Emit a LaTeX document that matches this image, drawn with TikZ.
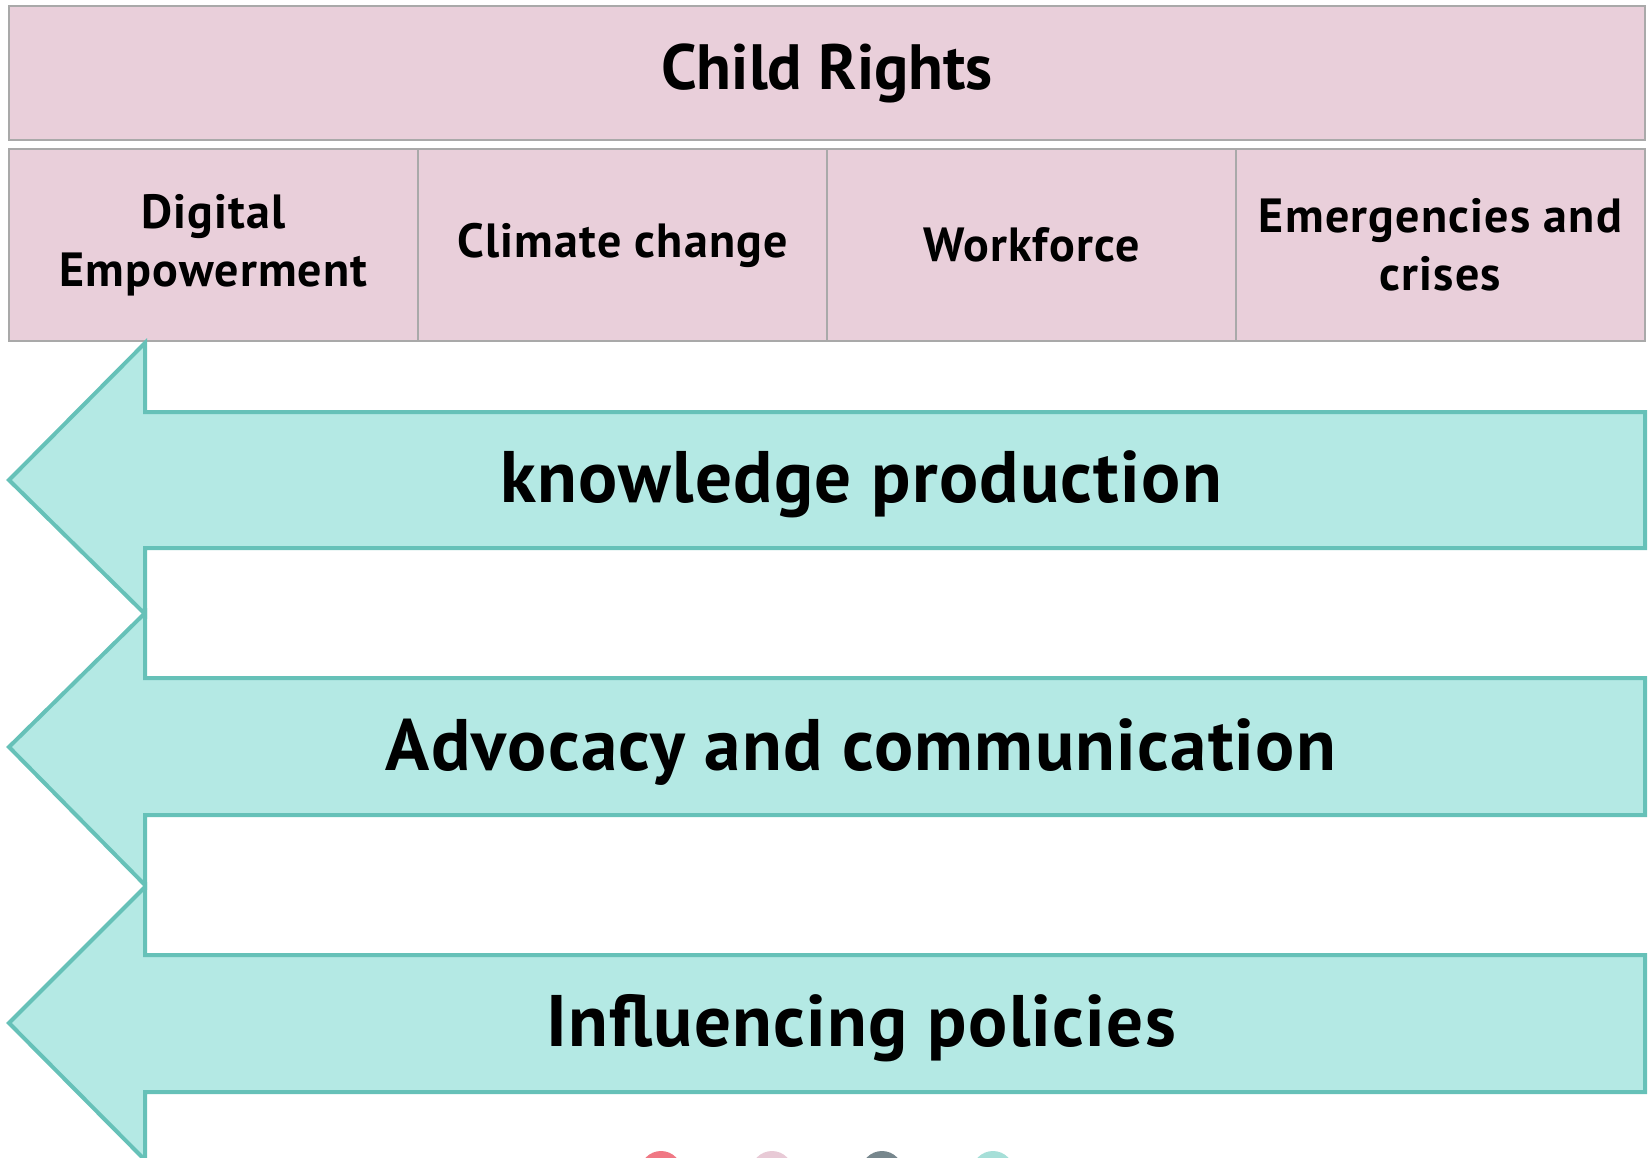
\documentclass[tikz,border=0pt]{standalone}
\usepackage{fontspec}
\setmainfont{PT Sans}
\usepackage{tikz}
\usetikzlibrary{positioning}
\definecolor{rosefill}{HTML}{E9CFDA}
\definecolor{roseline}{HTML}{A9A9A9}
\definecolor{tealfill}{HTML}{B4E9E4}
\definecolor{tealline}{HTML}{66C1B8}
\definecolor{dotred}{HTML}{F07884}
\definecolor{dotpink}{HTML}{E8CAD6}
\definecolor{dotgray}{HTML}{77878D}
\definecolor{dotteal}{HTML}{A6DFD8}
\tikzstyle{rightsbox} = [draw=roseline, fill=rosefill, line width=2pt, outer sep=0pt, align=center]
\tikzstyle{themebox} = [rightsbox, minimum width=409pt, minimum height=192pt,
  font=\bfseries\fontsize{48}{58}\selectfont\addfontfeatures{LetterSpace=2.5}]
\tikzstyle{band} = [draw=tealline, fill=tealfill, line width=4pt]
\tikzstyle{bandtext} = [anchor=base,
  font=\bfseries\fontsize{73}{80}\selectfont\addfontfeatures{LetterSpace=1.8}]

\begin{document}
\begin{tikzpicture}[x=1pt, y=-1pt]
  \useasboundingbox (0,0) rectangle (1648,1157);
  % top row
  \node [rightsbox, minimum width=1636pt, minimum height=134pt,
    font=\bfseries\fontsize{64}{70}\selectfont] (rights) at (827,73) {Child Rights};
  \node [themebox, anchor=north west] (digital) at (9,149) {Digital\\Empowerment};
  \node [themebox, right=0pt of digital] (climate) {Climate change};
  \node [themebox, right=0pt of climate] (workforce) {Workforce};
  \node [themebox, right=0pt of workforce] (crises) {Emergencies and\\crises};
  % arrows
  \draw [band] (1645,412) -- (145,412) -- (145,343) -- (9,480) -- (145,614)
    -- (145,548) -- (1645,548) -- cycle;
  \draw [band] (1645,678) -- (145,678) -- (145,613) -- (9,747) -- (145,885)
    -- (145,815) -- (1645,815) -- cycle;
  \draw [band] (1645,955) -- (145,955) -- (145,887) -- (9,1023) -- (145,1160)
    -- (145,1092) -- (1645,1092) -- cycle;
  \node [bandtext] (knowledge) at (861,502) {knowledge production};
  \node [bandtext] (advocacy) at (861,770) {Advocacy and communication};
  \node [bandtext] (policies) at (861,1046) {Influencing policies};
  % dots
  \fill [dotred] (661,1172) circle (21pt);
  \fill [dotpink] (772,1172) circle (21pt);
  \fill [dotgray] (882,1172) circle (21pt);
  \fill [dotteal] (993,1172) circle (21pt);
\end{tikzpicture}
\end{document}
